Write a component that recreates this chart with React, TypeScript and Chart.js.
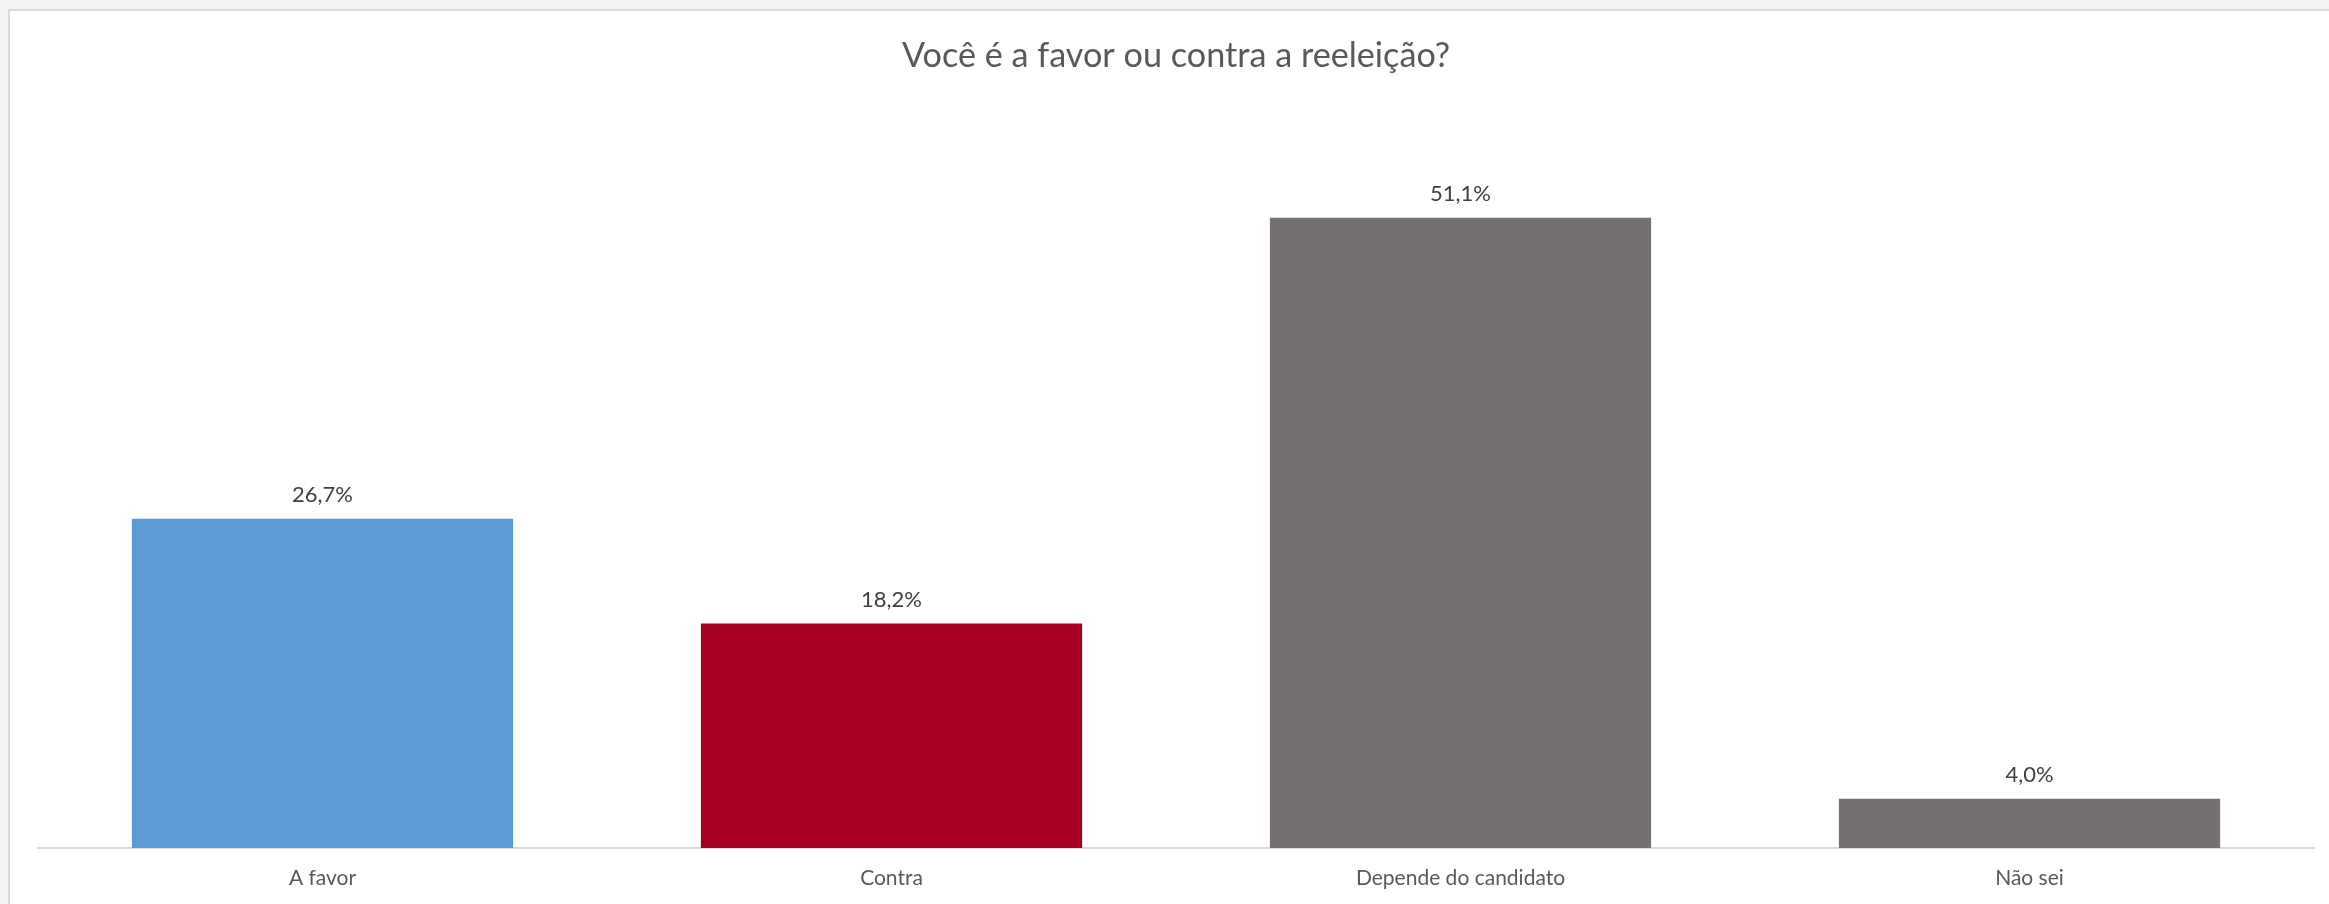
import React, { useEffect, useRef } from "react";
import { Chart, registerables } from "chart.js";

Chart.register(...registerables);

const categories = ["A favor", "Contra", "Depende do candidato", "Não sei"];
const values = [26.7, 18.2, 51.1, 4.0];
const valueLabels = ["26,7%", "18,2%", "51,1%", "4,0%"];
const barColors = ["#5B9BD5", "#A50021", "#767171", "#767171"];
const titleText = "Você é a favor ou contra a reeleição?";
const yMin = 0;
const yMax = 60;

const FONT = "Lato";

const valueLabelPlugin = {
  id: "valueLabels",
  afterDatasetsDraw(chart: any) {
    const ctx = chart.ctx;
    const meta = chart.getDatasetMeta(0);
    ctx.save();
    ctx.font = `22px ${FONT}`;
    ctx.fillStyle = "#404040";
    ctx.textAlign = "center";
    ctx.textBaseline = "alphabetic";
    meta.data.forEach((bar: any, i: number) => {
      ctx.fillText(valueLabels[i], bar.x, bar.y - 17);
    });
    ctx.restore();
  },
};

export default function App() {
  const canvasRef = useRef<HTMLCanvasElement | null>(null);

  useEffect(() => {
    if (!canvasRef.current) return;
    const chart = new Chart(canvasRef.current, {
      type: "bar",
      data: {
        labels: categories,
        datasets: [
          {
            data: values,
            backgroundColor: barColors,
            borderWidth: 0,
            barPercentage: 0.67,
            categoryPercentage: 1,
          },
        ],
      },
      options: {
        responsive: false,
        animation: false,
        devicePixelRatio: 1,
        layout: { padding: { left: 28, right: 15, top: 0, bottom: 0 } },
        plugins: {
          legend: { display: false },
          tooltip: { enabled: false },
          title: {
            display: true,
            text: titleText,
            color: "#595959",
            font: { family: FONT, size: 34.2, weight: "normal", lineHeight: 1.2 },
            padding: { top: 24.5, bottom: 31.46 },
          },
        },
        scales: {
          x: {
            grid: { display: false, drawTicks: false },
            border: { display: true, color: "#d9d9d9", width: 2 },
            ticks: {
              color: "#595959",
              font: { family: FONT, size: 21, lineHeight: 1.2 },
              padding: 18,
              maxRotation: 0,
              autoSkip: false,
            },
            afterFit(scale: any) {
              scale.height = 56;
            },
          },
          y: {
            display: false,
            min: yMin,
            max: yMax,
          },
        },
      },
      plugins: [valueLabelPlugin],
    });
    return () => chart.destroy();
  }, []);

  return (
    <div
      style={{
        position: "absolute",
        left: 0,
        top: 0,
        width: 2329,
        height: 904,
        overflow: "hidden",
        background: "#f2f2f2",
      }}
    >
      <div
        style={{
          position: "absolute",
          left: 8,
          top: 9,
          width: 2321,
          height: 895,
          borderLeft: "2px solid #d9d9d9",
          borderTop: "2px solid #d9d9d9",
          background: "#ffffff",
        }}
      >
        <canvas
          ref={canvasRef}
          width={2319}
          height={893}
          style={{ display: "block", width: 2319, height: 893 }}
        />
      </div>
    </div>
  );
}
